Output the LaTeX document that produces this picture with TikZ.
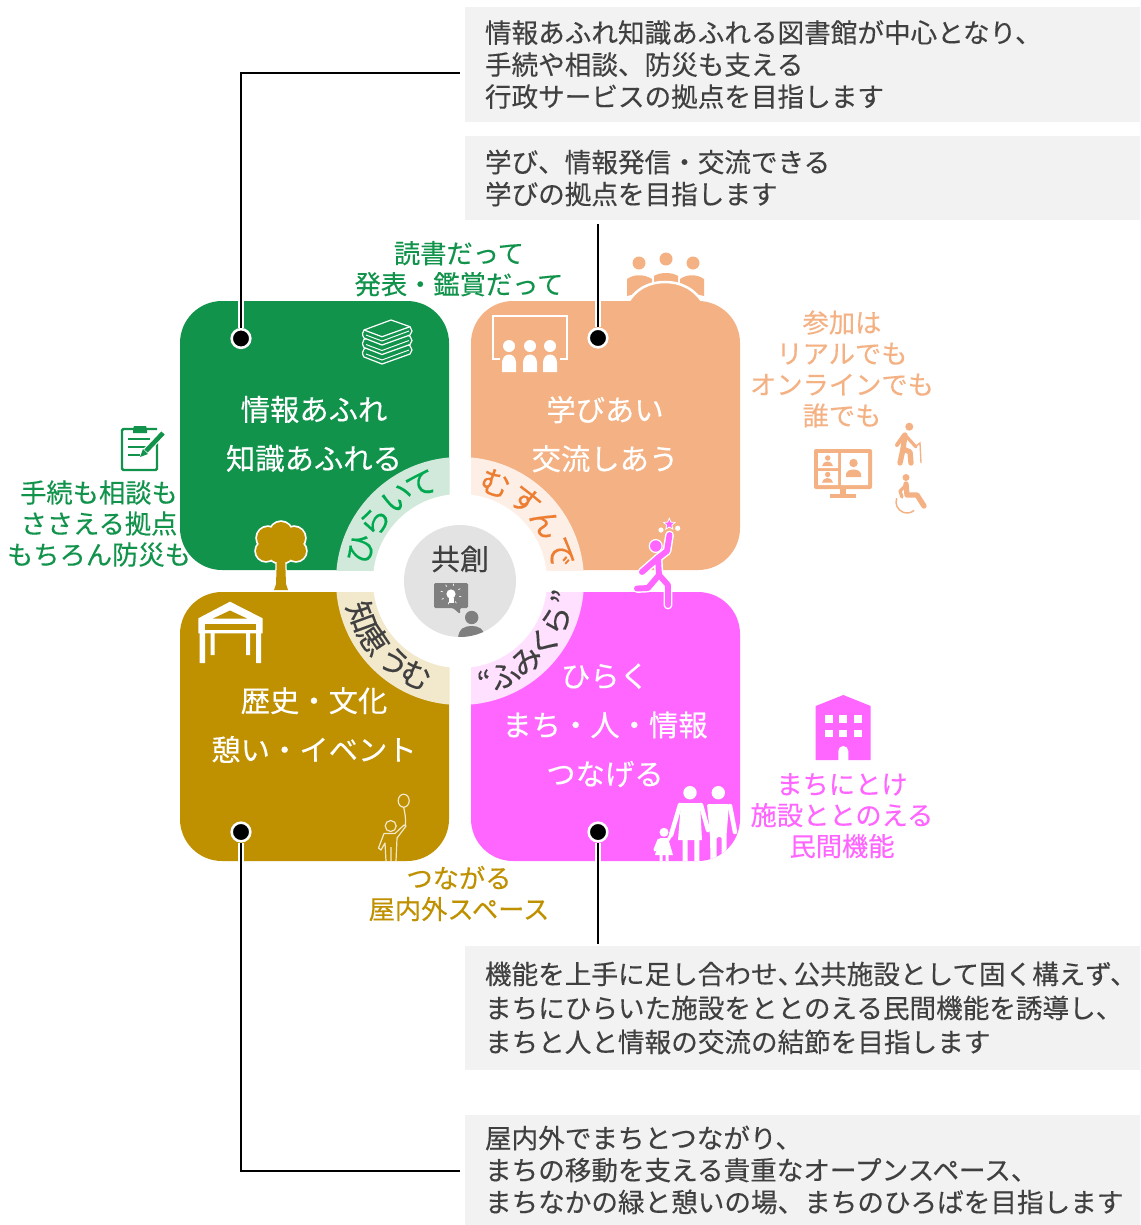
\documentclass[tikz,border=0pt]{standalone}
\usepackage{fontspec}
\setmainfont{Noto Sans CJK JP}[FakeBold=0.3]
\usetikzlibrary{positioning,calc,shapes.geometric}

\definecolor{quadgreen}{HTML}{12934C}
\definecolor{quadorange}{HTML}{F4B183}
\definecolor{quadgold}{HTML}{BF9000}
\definecolor{quadpink}{HTML}{FF66FF}
\definecolor{palegreen}{HTML}{D0E9DA}
\definecolor{paleorange}{HTML}{FDEFE6}
\definecolor{palegold}{HTML}{F2E8CC}
\definecolor{palepink}{HTML}{FFE0FF}
\definecolor{ringgreen}{HTML}{00A94F}
\definecolor{ringorange}{HTML}{ED7D31}
\definecolor{inkgrey}{HTML}{404040}
\definecolor{boxgrey}{HTML}{F2F2F2}
\definecolor{hubgrey}{HTML}{E3E3E3}
\definecolor{icongrey}{HTML}{7F7F7F}

\tikzset{
    quadbox/.style={rectangle, minimum size=201.75pt, inner sep=0pt, outer sep=0pt, rounded corners=31.5pt},
    infobox/.style={rectangle, anchor=north west, fill=boxgrey, text=inkgrey, align=left, inner xsep=15pt, inner ysep=0pt, outer sep=0pt, text width=476.25pt, font=\fontsize{19.95}{24}\selectfont},
    sidelabel/.style={align=center, inner sep=0pt, font=\fontsize{19.7}{23.25}\selectfont},
    quadtitle/.style={align=center, inner sep=0pt, text=white, font=\fontsize{22}{36.75}\selectfont},
    ringchar/.style={inner sep=0pt, font=\fontsize{23}{24}\selectfont},
    pin/.style={circle, inner sep=0pt, minimum size=14pt, fill=black, draw=white, line width=1.9pt},
    leadline/.style={draw=black, line width=1.9pt, preaction={draw=white, line width=4pt}},
    limb/.style={line width=#1, line cap=round, line join=round},
}

\begin{document}
\begin{tikzpicture}[x=0.75pt, y=-0.75pt, node distance=16.5pt]
    \useasboundingbox (0,0) rectangle (1140,1225);

    % explanation boxes
    \node[infobox, minimum height=86.25pt] (infotop) at (465,7) {情報あふれ知識あふれる図書館が中心となり、\\手続や相談、防災も支える\\行政サービスの拠点を目指します};
    \node[infobox, minimum height=63pt] (learntop) at (465,136) {学び、情報発信・交流できる\\学びの拠点を目指します};
    \node[infobox, minimum height=93pt, font=\fontsize{19.95}{25.5}\selectfont] (townbox) at (465,946) {機能を上手に足し合わせ、\kern-0.4em 公共施設として固く構えず、\\まちにひらいた施設をととのえる民間機能を誘導し、\\まちと人と情報の交流の結節を目指します};
    \node[infobox, minimum height=82.5pt] (outbox) at (465,1115) {屋内外でまちとつながり、\\まちの移動を支える貴重なオープンスペース、\\まちなかの緑と憩いの場、まちのひろばを目指します};

    % people and bump above the orange block
    \fill[quadorange] (639,263) circle (6.5) (666,259) circle (6.5) (693,263) circle (6.5);
    \fill[quadorange] (627,296) -- (627,279) .. controls (634,274) and (644,274) .. (652,279) -- (652,290) -- cycle;
    \fill[quadorange] (654,276) .. controls (660,272) and (672,272) .. (678,276) -- (678,290) -- (654,290) -- cycle;
    \fill[quadorange] (704,296) -- (704,279) .. controls (697,274) and (687,274) .. (680,279) -- (680,290) -- cycle;
    \filldraw[quadorange, draw=white, line width=1.9pt] (626,306) .. controls (635,288) and (650,282) .. (665,282) .. controls (680,282) and (695,288) .. (705,306) -- cycle;

    % four blocks
    \node[quadbox, fill=quadgreen, anchor=north west] (blockgreen) at (180,301) {};
    \node[quadbox, fill=quadorange, right=of blockgreen] (blockorange) {};
    \node[quadbox, fill=quadgold, below=of blockgreen] (blockgold) {};
    \node[quadbox, fill=quadpink, right=of blockgold] (blockpink) {};
    \coordinate (ringhub) at (460,581);

    % pale ring, one quarter in each block
    \foreach \blk/\pale in {blockgreen/palegreen, blockorange/paleorange, blockgold/palegold, blockpink/palepink} {
        \begin{scope}
            \clip (\blk.north west) rectangle (\blk.south east);
            \fill[\pale] (ringhub) circle (93pt);
        \end{scope}
    }
    \fill[white] (ringhub) circle (65.25pt);
    \fill[hubgrey] (ringhub) circle (42pt);

    % ring texts
    \foreach \ch/\ang [count=\n] in {ひ/162, ら/145, い/127, て/112}
        \node[ringchar, text=ringgreen, rotate=\ang-90] (ringa\n) at ($(ringhub)+(\ang:78pt)$) {\ch};
    \foreach \ch/\ang [count=\n] in {む/70, す/51, ん/34, で/16}
        \node[ringchar, text=ringorange, rotate=\ang-90] (ringb\n) at ($(ringhub)+(\ang:78pt)$) {\ch};
    \foreach \ch/\ang [count=\n] in {知/200, 恵/214, う/231, む/245}
        \node[ringchar, text=inkgrey, rotate=\ang+90] (ringc\n) at ($(ringhub)+(\ang:78pt)$) {\ch};
    \foreach \ch/\ang [count=\n] in {“/284, ふ/295, み/310, く/324, ら/338, ”/351}
        \node[ringchar, text=inkgrey, rotate=\ang+90] (ringd\n) at ($(ringhub)+(\ang:78pt)$) {\ch};

    % hub
    \node[inner sep=0pt, text=inkgrey, font=\fontsize{21.75}{24}\selectfont] (hubtext) at (460,559) {共創};
    \begin{scope}
        \clip (ringhub) circle (42pt);
        \fill[icongrey, rounded corners=1pt] (434,583) -- (468,583) -- (468,608) -- (460,608) -- (460,614) -- (453,608) -- (434,608) -- cycle;
        \fill[white] (451,594) circle (4.6);
        \fill[white] (448.5,598) rectangle (453.5,603);
        \foreach \a in {30,75,...,345}
            \draw[white, line width=0.5pt] ($(451,594)+(\a:6.4pt)$) -- ($(451,594)+(\a:8pt)$);
        \fill[icongrey] (471.7,617.5) circle (6.7);
        \fill[icongrey] (458,638) .. controls (459,628) and (465,626) .. (471.7,626) .. controls (478,626) and (484,628) .. (485,638) -- cycle;
    \end{scope}

    % block titles
    \node[quadtitle] (titlegreen) at (314,434) {情報あふれ\\知識あふれる};
    \node[quadtitle] (titleorange) at (605,434.2) {学びあい\\交流しあう};
    \node[quadtitle] (titlegold) at (314,725) {歴史・文化\\憩い・イベント};
    \node[quadtitle] (titlepink) at (605,725.3) {ひらく\\まち・人・情報\\つなげる};

    % side labels
    \node[sidelabel, text=quadgreen] (labeltop) at (459,268.7) {読書だって\\発表・鑑賞だって};
    \node[sidelabel, text=quadgreen] (labelleft) at (99,523.6) {手続も相談も\\ささえる拠点\\もちろん防災も};
    \node[sidelabel, text=quadorange] (labelright) at (842,369) {参加は\\リアルでも\\オンラインでも\\誰でも};
    \node[sidelabel, text=quadpink] (labelpink) at (842,815.7) {まちにとけ\\施設ととのえる\\民間機能};
    \node[sidelabel, text=quadgold] (labelgold) at (459,893.5) {つながる\\屋内外スペース};

    % books
    \foreach \i in {2,1,0} {
        \filldraw[quadgreen, draw=white, line width=0.9pt, line join=round, shift={(0,9.5*\i)}] (391,320) -- (410,326.7) -- (412,331) -- (410,335) -- (382,345) -- (364,338) .. controls (362,335) and (362,332) .. (364,330) -- cycle;
        \draw[white, line width=0.7pt, shift={(0,9.5*\i)}] (409,331) -- (382,341) -- (366,335);
    }
    \draw[white, line width=0.9pt, line join=round] (410,326.7) -- (382,336.7) -- (364,330);

    % clipboard
    \draw[quadgreen, line width=1.8pt, rounded corners=1pt] (157,440) -- (157,470) -- (122,470) -- (122,429) -- (157,429);
    \fill[quadgreen] (133,429) -- (134,426) -- (146,426) -- (147,429) -- (147,433) -- (133,433) -- cycle;
    \draw[quadgreen, line width=1.5pt] (128,439) -- (150,439) (128,447) -- (146,447) (128,455) -- (140,455);
    \draw[white, line width=5pt] (164,432) -- (144,453);
    \draw[quadgreen, line width=3.4pt] (163,433) -- (146,451);
    \fill[quadgreen] (140,457) -- (143,449) -- (148,454) -- cycle;

    % tree
    \foreach \cx/\cy/\cr in {281/533/11, 268/538/11, 294/538/11, 266/551/10, 296/551/10, 281/548/15}
        \draw[white, line width=2.6pt] (\cx,\cy) circle (\cr);
    \draw[white, line width=1.9pt, line join=round] (277,556) -- (285,556) -- (286,584) -- (288,590) -- (274,590) -- (276,584) -- cycle;
    \foreach \cx/\cy/\cr in {281/533/11, 268/538/11, 294/538/11, 266/551/10, 296/551/10, 281/548/15}
        \fill[quadgold] (\cx,\cy) circle (\cr);
    \fill[quadgold] (277,556) -- (285,556) -- (286,584) -- (288,590) -- (274,590) -- (276,584) -- cycle;

    % board and audience
    \draw[white, line width=1.9pt] (500,359) -- (493,359) -- (493,316) -- (567,316) -- (567,359) -- (560,359);
    \foreach \px in {509,530,550} {
        \fill[white] (\px,346) circle (6);
        \fill[white] (\px-7,372) -- (\px-7,362) .. controls (\px-6,352) and (\px+6,352) .. (\px+7,362) -- (\px+7,372) -- cycle;
    }

    % video call, walker, wheelchair
    \fill[quadorange, rounded corners=1.5pt] (814,449) rectangle (872,489);
    \fill[quadorange] (840,489) rectangle (846,495);
    \fill[quadorange] (830,494) rectangle (856,498);
    \fill[white] (818,453) rectangle (838,468) (818,471) rectangle (838,485) (841,453) rectangle (868,485);
    \fill[quadorange] (827.7,458) circle (2.7) (827.7,474.5) circle (2.7) (853.5,463) circle (4.2);
    \fill[quadorange] (822,466) .. controls (823,460) and (832,460) .. (833,466) -- cycle;
    \fill[quadorange] (822,482.5) .. controls (823,476.5) and (832,476.5) .. (833,482.5) -- cycle;
    \fill[quadorange] (846,477) -- (846,474) .. controls (847,468) and (860,468) .. (861,474) -- (861,477) -- cycle;

    \fill[quadorange] (909.3,426.7) circle (4);
    \draw[quadorange, limb=4pt] (905,435) -- (903,449) -- (900,463);
    \draw[quadorange, limb=4pt] (903,449) -- (910,452) -- (911,463);
    \draw[quadorange, limb=3pt] (904,435) -- (897,445);
    \draw[quadorange, limb=2.4pt] (906,436) -- (916,447);
    \draw[quadorange, line width=1pt] (916,446) -- (920,443) -- (921,463);

    \fill[quadorange] (906,477.5) circle (3.5);
    \draw[quadorange, limb=4pt] (906,484) -- (907,495) -- (917,495) -- (924,506);
    \draw[quadorange, limb=2.4pt] (905,486) -- (900,491) -- (902,497);
    \draw[quadorange, line width=1.1pt] (896.7,498.2) arc[start angle=160, end angle=310, radius=8.25pt];

    % gate
    \fill[white] (230,601.7) -- (262.7,618.3) -- (262.7,633.3) -- (198.3,633.3) -- (198.3,618.3) -- cycle;
    \fill[quadgold] (213,618.5) -- (230,610.5) -- (247,618.5) -- cycle;
    \fill[quadgold] (205,623.5) rectangle (256,629.5);
    \fill[white] (199.5,633) rectangle (205,663) (256,633) rectangle (261,663) (210.5,633) rectangle (214.5,655) (246,633) rectangle (250,655);

    % balloon child
    \draw[palegold, line width=0.9pt, line join=round] (403.7,800.7) ellipse (5.5 and 6.5);
    \draw[palegold, line width=0.9pt] (403.7,807.2) .. controls (405,813) and (406,820) .. (405.5,825);
    \draw[palegold, line width=0.9pt] (390.7,826) circle (5.5);
    \draw[palegold, line width=0.9pt, line join=round] (386,861) -- (385,843) -- (381,850) -- (378.5,848) -- (384,833.5) -- (395,833.5) -- (404,825) -- (406,826) -- (397,838) -- (396,861) (391,847) -- (391,861);

    % family
    \begin{scope}
        \clip (blockpink.north west) [rounded corners=31.5pt] rectangle (blockpink.south east);
        \fill[white] (690,792.7) circle (6.7) (718.3,792.7) circle (6.7) (664,832.3) circle (4.5);
        \fill[white] (681,803) -- (700,803) -- (702,840) -- (678,840) -- cycle;
        \draw[white, limb=3.4pt] (680,805) -- (671,835) (701,805) -- (708,830);
        \fill[white] (682.7,839) rectangle (687.7,861) (694.3,839) rectangle (699.3,861);
        \fill[white, rounded corners=1pt] (707,804) -- (729,804) -- (726.5,836) -- (726.5,861) -- (721.7,861) -- (721.7,837) -- (716.7,837) -- (716.7,861) -- (710.5,861) -- (710,836) -- cycle;
        \draw[white, limb=3.4pt] (730,806) -- (735,832);
        \fill[white] (660,838) -- (668,838) -- (673,855) -- (655,855) -- cycle;
        \draw[white, limb=2.4pt] (659,840) -- (655,850) (668,840) -- (671,835);
        \fill[white] (659.5,854) rectangle (662.5,861) (665.5,854) rectangle (668.5,861);
    \end{scope}

    % runner
    \foreach \lw/\col in {6.6pt/white, 4.4pt/quadpink} {
        \draw[\col, limb=\lw] (669.5,535) -- (667,551) -- (658,558) -- (642,572);
        \draw[\col, limb=\lw] (658,558) -- (659,575) -- (648,588) -- (637,588.5);
        \draw[\col, limb=\lw] (659,575) -- (668,585) -- (668,605);
    }
    \filldraw[quadpink, draw=white, line width=0.9pt] (655.7,546) circle (6.4);
    \node[star, star points=5, star point ratio=2.2, fill=quadpink, draw=white, line width=0.6pt, inner sep=1pt, minimum size=9pt] (runnerstar) at (669.3,524.3) {};
    \fill[white] (661,530) circle (2.6) (677.7,528.3) circle (2.6);

    % building
    \fill[quadpink] (843.3,695) -- (870.7,706) -- (870.7,760) -- (815.7,760) -- (815.7,706) -- cycle;
    \foreach \wx in {825,839.3,854}
        \foreach \wy in {715,729.5}
            \fill[white] (\wx,\wy) rectangle (\wx+7.7,\wy+7.7);
    \fill[white] (838.3,761) -- (838.3,751) arc[start angle=180, end angle=0, radius=3.75pt] -- (848.3,761) -- cycle;

    % pins and lines
    \node[pin] (pininfo) at (241,338.5) {};
    \node[pin] (pinlearn) at (598,338) {};
    \node[pin] (pinout) at (241,832) {};
    \node[pin] (pintown) at (598,832) {};
    \coordinate (leadinfo) at (460,73);
    \coordinate (leadlearn) at (598,224);
    \coordinate (leadout) at (460,1171);
    \coordinate (leadtown) at (598,944);
    \draw[leadline] (leadinfo) -| (pininfo);
    \draw[leadline] (leadlearn) -- (pinlearn);
    \draw[leadline] (leadout) -| (pinout);
    \draw[leadline] (leadtown) -- (pintown);
\end{tikzpicture}
\end{document}
